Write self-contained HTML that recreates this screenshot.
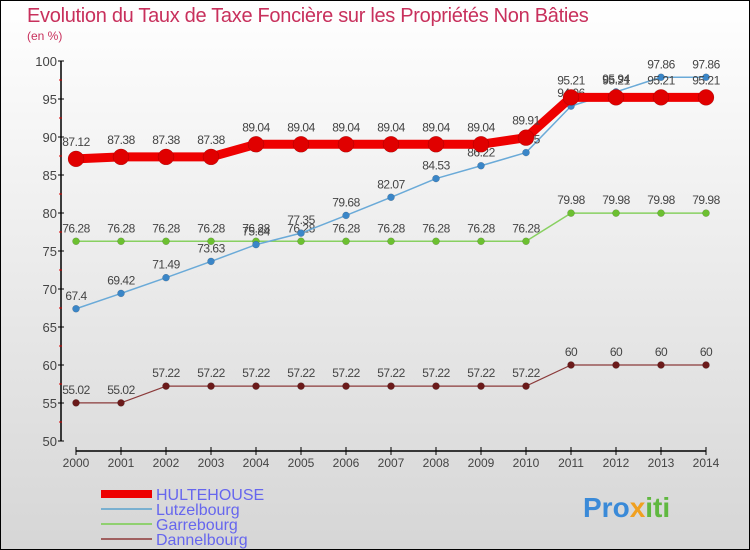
<!DOCTYPE html>
<html><head><meta charset="utf-8">
<style>
body{margin:0}
#wrap{position:relative;width:748px;height:548px;border:1px solid #000;background:linear-gradient(#ffffff,#d6d6d6);font-family:"Liberation Sans",sans-serif;overflow:hidden}
#title{position:absolute;left:26px;top:4px;font-size:20px;color:#c8305c;letter-spacing:-0.3px}
#unit{position:absolute;left:26px;top:28px;font-size:12px;color:#c8305c}
svg{position:absolute;left:0;top:0}
</style></head><body>
<div id="wrap">
<div id="title">Evolution du Taux de Taxe Foncière sur les Propriétés Non Bâties</div>
<div id="unit">(en %)</div>
<svg id="svg" width="750" height="550"></svg>
</div>
<script>
const years=[2000,2001,2002,2003,2004,2005,2006,2007,2008,2009,2010,2011,2012,2013,2014];
const hultehouse=[87.12,87.38,87.38,87.38,89.04,89.04,89.04,89.04,89.04,89.04,89.91,95.21,95.21,95.21,95.21];
const lutzelbourg=[67.4,69.42,71.49,73.63,75.84,77.35,79.68,82.07,84.53,86.22,87.95,94.06,95.94,97.86,97.86];
const garrebourg=[76.28,76.28,76.28,76.28,76.28,76.28,76.28,76.28,76.28,76.28,76.28,79.98,79.98,79.98,79.98];
const dannelbourg=[55.02,55.02,57.22,57.22,57.22,57.22,57.22,57.22,57.22,57.22,57.22,60,60,60,60];
const yTicks=[50,55,60,65,70,75,80,85,90,95,100];
const NS="http://www.w3.org/2000/svg";
const svg=document.getElementById('svg');
const X=i=>75+i*45;
const Y=v=>440-(v-50)*7.6;
function mk(tag,attrs,parent){const e=document.createElementNS(NS,tag);for(const k in attrs)e.setAttribute(k,attrs[k]);(parent||svg).appendChild(e);return e;}
// axes
let ax=mk('line',{x1:60,y1:Y(100),x2:60,y2:Y(50),stroke:'#000','stroke-width':1.5});


yTicks.forEach((t,i)=>{
 mk('line',{x1:57,y1:Y(t),x2:63,y2:Y(t),stroke:'#000'});
 if(i<yTicks.length-1) mk('line',{x1:58,y1:Y(t+2.5),x2:61,y2:Y(t+2.5),stroke:'#d00'});
 const tx=mk('text',{x:56,y:Y(t)+5,'text-anchor':'end','font-size':13,fill:'#444'});
 tx.textContent=t;
 
 
});
let xa=mk('line',{x1:X(0),y1:450,x2:X(14),y2:450,stroke:'#000','stroke-width':1.5});


years.forEach((y,i)=>{
 mk('line',{x1:X(i),y1:446,x2:X(i),y2:454,stroke:'#000'});
 const tx=mk('text',{x:X(i),y:466,'text-anchor':'middle','font-size':12,fill:'#444'});
 tx.textContent=y;
 
 
});
function series(data,color,lw,r,name,dotColor){
 const g=mk('g',{});
 
 
 mk('polyline',{points:data.map((v,i)=>X(i)+','+Y(v)).join(' '),fill:'none',stroke:color,'stroke-width':lw,'stroke-linejoin':'round'},g);
 data.forEach((v,i)=>{
  const c=mk('circle',{cx:X(i),cy:Y(v),r:r,fill:dotColor,stroke:'rgba(0,0,0,0.25)','stroke-width':0.5},g);
  
  
  const t=mk('text',{x:X(i),y:Y(v)-9-(r>5?4:0),'text-anchor':'middle','font-size':12,fill:'#444','letter-spacing':'-0.5'},g);
  t.textContent=String(v);
  
  
 });
}
series(dannelbourg,'#8b3a3a',1.2,3.5,'dannelbourg','#6b1a1a');
series(garrebourg,'#88d060',1.5,3.5,'garrebourg','#6cc030');
series(lutzelbourg,'#6aaad8',1.5,3.5,'lutzelbourg','#3a86c8');
series(hultehouse,'#ee0000',9,8,'hultehouse','#e00000');
// legend
const leg=[['HULTEHOUSE','#ee0000',8],['Lutzelbourg','#7ab0d0',2],['Garrebourg','#90d070',2],['Dannelbourg','#a06060',2]];
leg.forEach((l,i)=>{
 const g=mk('g',{});
 
 
 const y=493+i*15;
 mk('line',{x1:100,y1:y,x2:151,y2:y,stroke:l[1],'stroke-width':l[2]},g);
 const t=mk('text',{x:155,y:y+6,'font-size':16,fill:'#6666ee'},g);
 t.textContent=l[0];
});
// logo
const lg=mk('text',{x:582,y:516,'font-size':28,'font-weight':'bold','font-family':'Liberation Sans, sans-serif'});


[['Pro','#3a8ad8'],['x','#f0a020'],['iti','#60b840']].forEach(p=>{const s=mk('tspan',{fill:p[1]},lg);s.textContent=p[0];});
</script>
</body></html>
